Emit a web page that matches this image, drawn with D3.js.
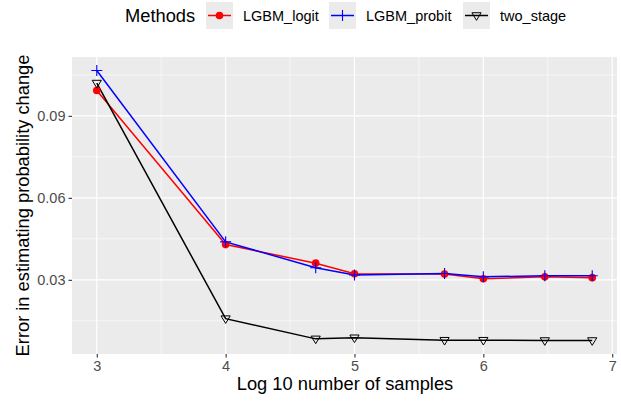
<!DOCTYPE html>
<html><head><meta charset="utf-8">
<script src="https://cdn.jsdelivr.net/npm/d3@7"></script>
<style>body{margin:0;background:#fff}svg{display:block;font-family:"Liberation Sans",Arial,sans-serif}</style>
</head><body><svg id="c" width="621" height="402"></svg>
<script>
const xs = [3, 4, 4.699, 5, 5.699, 6, 6.477, 6.845];
const logit = [0.0993, 0.0429, 0.0361, 0.0322, 0.0321, 0.0304, 0.0311, 0.0308];
const probit = [0.1066, 0.0439, 0.0344, 0.0318, 0.0323, 0.0311, 0.0315, 0.0315];
const twoStage = [0.1020, 0.0158, 0.0084, 0.0088, 0.0079, 0.0079, 0.0078, 0.0078];
const methods = ["LGBM_logit", "LGBM_probit", "two_stage"];
const colors = ["#FF0000", "#0000FF", "#000000"];
const xTicks = [3, 4, 5, 6, 7];
const yTicks = [0.03, 0.06, 0.09];

const series = [logit, probit, twoStage];
const svg = d3.select("#c");
const L = 72, R = 617, T = 57, B = 354;
const xmin = d3.min(xs), xmax = d3.max(xs);
const allY = series.flat();
const ymin = d3.min(allY), ymax = d3.max(allY);
const xr = xmax - xmin, yr = ymax - ymin;
const x = d3.scaleLinear().domain([xmin - 0.05*xr, xmax + 0.05*xr]).range([L, R]);
const y = d3.scaleLinear().domain([ymin - 0.05*yr, ymax + 0.05*yr]).range([B, T]);

svg.append("rect").attr("x", L).attr("y", T).attr("width", R-L).attr("height", B-T).attr("fill", "#EBEBEB");
const g = svg.append("g");
const xMinor = [3.5, 4.5, 5.5, 6.5];
const yMinor = [0.015, 0.045, 0.075, 0.105];
xMinor.forEach(v => g.append("line").attr("x1", x(v)).attr("x2", x(v)).attr("y1", T).attr("y2", B).attr("stroke", "#fff").attr("stroke-width", 0.6));
yMinor.forEach(v => g.append("line").attr("x1", L).attr("x2", R).attr("y1", y(v)).attr("y2", y(v)).attr("stroke", "#fff").attr("stroke-width", 0.6));
xTicks.forEach(v => g.append("line").attr("x1", x(v)).attr("x2", x(v)).attr("y1", T).attr("y2", B).attr("stroke", "#fff").attr("stroke-width", 1.2));
yTicks.forEach(v => g.append("line").attr("x1", L).attr("x2", R).attr("y1", y(v)).attr("y2", y(v)).attr("stroke", "#fff").attr("stroke-width", 1.2));

const xa = svg.append("g").attr("transform", `translate(0,${B})`).call(d3.axisBottom(x).tickValues(xTicks).tickSize(3.5).tickPadding(3).tickFormat(d3.format("d")));
const ya = svg.append("g").attr("transform", `translate(${L},0)`).call(d3.axisLeft(y).tickValues(yTicks).tickSize(3.5).tickPadding(3).tickFormat(d3.format(".2f")));
[xa, ya].forEach(a => {
  a.select(".domain").remove();
  a.selectAll(".tick line").attr("stroke", "#333333").attr("stroke-width", 1.1);
  a.selectAll(".tick text").attr("fill", "#4D4D4D").style("font-size", "14.5px").style("font-family", "Liberation Sans, Arial, sans-serif");
});

function marker(sel, i, cx, cy) {
  if (i === 0) {
    sel.append("circle").attr("cx", cx).attr("cy", cy).attr("r", 3.8).attr("fill", colors[0]);
  } else if (i === 1) {
    sel.append("path").attr("d", `M${cx-5.5},${cy}H${cx+5.5}M${cx},${cy-5.5}V${cy+5.5}`).attr("stroke", colors[1]).attr("stroke-width", 1.1).attr("fill", "none");
  } else {
    const s = 4.6;
    sel.append("path").attr("d", `M${cx-s},${cy-s*0.6}L${cx+s},${cy-s*0.6}L${cx},${cy+s*1.05}Z`).attr("stroke", colors[2]).attr("stroke-width", 1).attr("fill", "none");
  }
}

const line = d3.line().x(d => x(d[0])).y(d => y(d[1]));
series.forEach((s, i) => {
  const pts = xs.map((v, j) => [v, s[j]]);
  svg.append("path").attr("d", line(pts)).attr("fill", "none").attr("stroke", colors[i]).attr("stroke-width", 1.5);
});
series.forEach((s, i) => {
  const mg = svg.append("g");
  xs.forEach((v, j) => marker(mg, i, x(v), y(s[j])));
});

svg.append("text").attr("x", 345).attr("y", 390).attr("text-anchor", "middle").attr("fill", "#000").style("font-size", "18.3px").text("Log 10 number of samples");
svg.append("text").attr("transform", `translate(28.5,${(T+B)/2}) rotate(-90)`).attr("text-anchor", "middle").attr("fill", "#000").style("font-size", "18.3px").text("Error in estimating probability change");

svg.append("text").attr("x", 125).attr("y", 22).attr("fill", "#000").style("font-size", "18.3px").text("Methods");
const keyX = [206, 329, 463];
methods.forEach((m, i) => {
  const kx = keyX[i];
  svg.append("rect").attr("x", kx).attr("y", 2).attr("width", 27).attr("height", 27).attr("fill", "#EBEBEB");
  svg.append("line").attr("x1", kx+2).attr("x2", kx+25).attr("y1", 15.5).attr("y2", 15.5).attr("stroke", colors[i]).attr("stroke-width", 1.5);
  marker(svg, i, kx+13.5, 15.5);
  svg.append("text").attr("x", kx+37).attr("y", 21).attr("fill", "#000").style("font-size", "14.5px").text(m);
});
</script></body></html>
